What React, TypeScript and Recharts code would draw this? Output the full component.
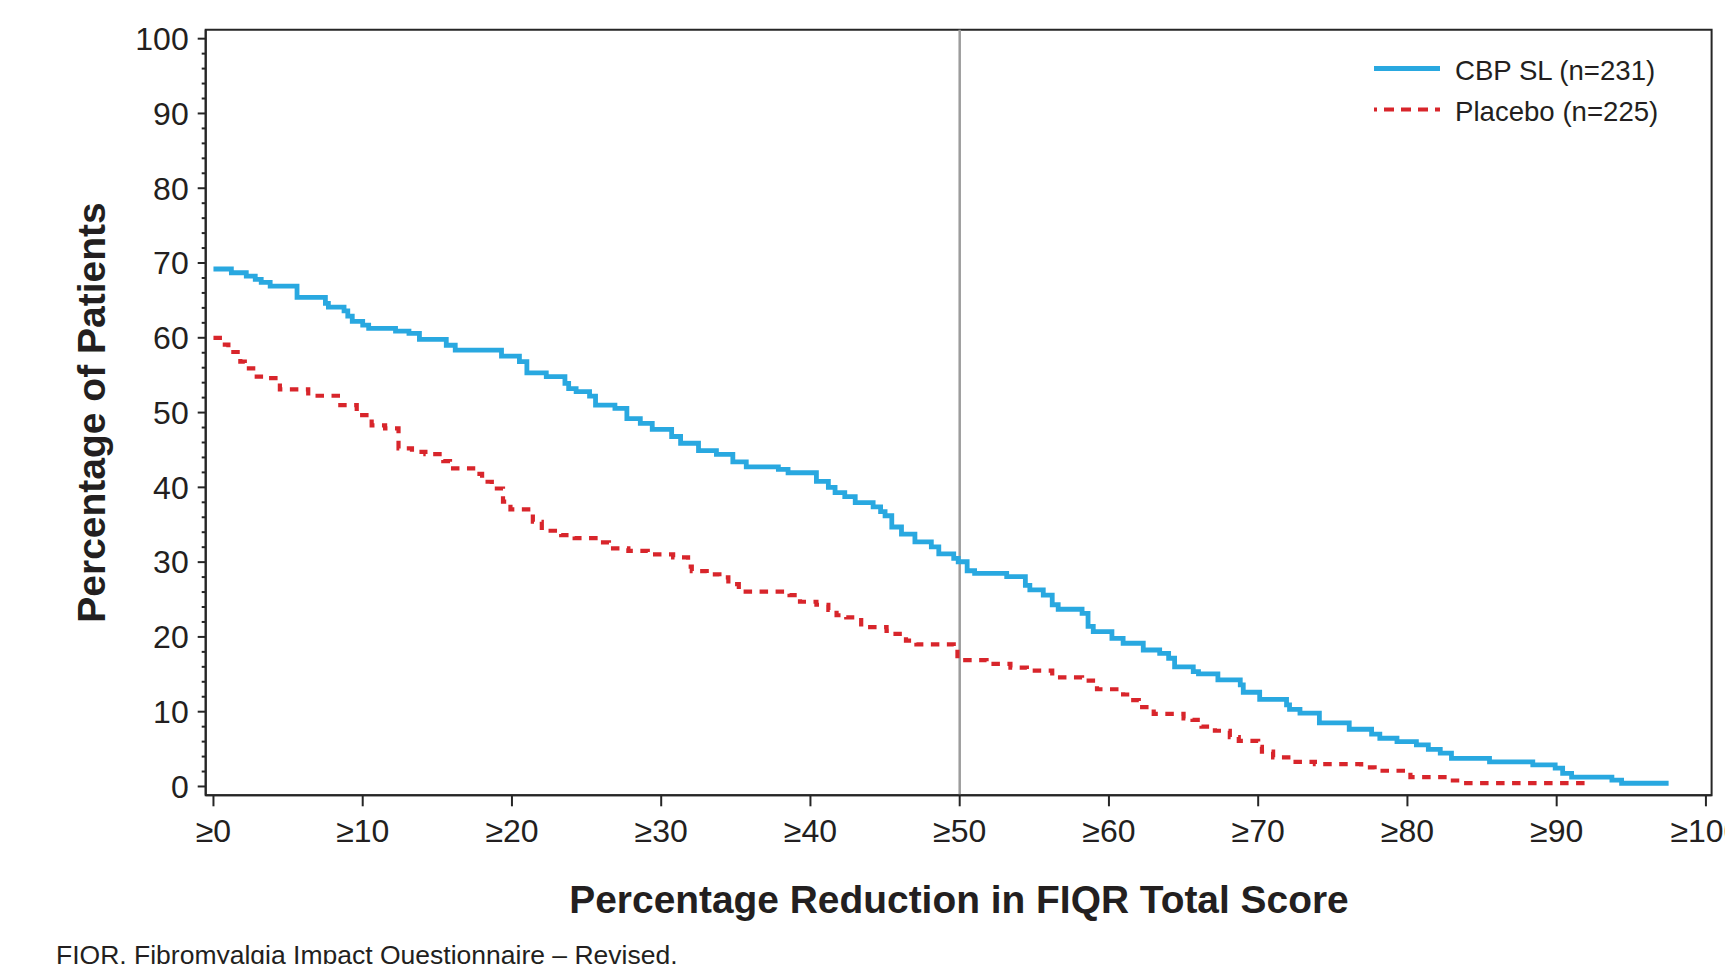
import React from 'react';
import { LineChart, Line, XAxis, YAxis, ReferenceLine, ReferenceArea } from 'recharts';

const FONT = '"Liberation Sans", Arial, Helvetica, sans-serif';
const BLUE = '#29a8e0';
const RED = '#d8252b';
const AXIS = '#262626';
const TEXT = '#231f20';

const seriesNames = ['CBP SL (n=231)', 'Placebo (n=225)'];
const xTitle = 'Percentage Reduction in FIQR Total Score';
const yTitle = 'Percentage of Patients';
const footnote = 'FIQR, Fibromyalgia Impact Questionnaire \u2013 Revised.';

const X_DOMAIN: [number, number] = [-0.52, 100.38];
const Y_DOMAIN: [number, number] = [-1.18, 101.2];

const xTicks = [0, 10, 20, 30, 40, 50, 60, 70, 80, 90, 100];
const yTicks = [
  0, 2, 4, 6, 8, 10, 12, 14, 16, 18, 20, 22, 24, 26, 28, 30, 32, 34, 36, 38, 40,
  42, 44, 46, 48, 50, 52, 54, 56, 58, 60, 62, 64, 66, 68, 70, 72, 74, 76, 78, 80,
  82, 84, 86, 88, 90, 92, 94, 96, 98, 100,
];
const yMajor = [0, 10, 20, 30, 40, 50, 60, 70, 80, 90, 100];

// [percentage reduction, percentage of patients]
const cbpSL: [number, number][] = [
  [0, 69.2], [1.2, 68.7], [2.2, 68.25], [2.8, 67.8], [3.2, 67.4], [3.8, 66.9],
  [5.6, 65.4], [7.5, 64.6], [7.7, 64.1], [8.75, 63.6], [9.0, 62.9], [9.3, 62.2],
  [10.0, 61.7], [10.4, 61.25], [12.2, 60.9], [13.1, 60.6], [13.8, 59.8], [15.6, 59.0],
  [16.2, 58.35], [19.3, 57.55], [20.5, 56.8], [21.0, 55.3], [22.3, 54.8], [23.55, 53.9],
  [23.8, 53.2], [24.3, 52.8], [25.2, 52.2], [25.6, 51.0], [26.9, 50.55], [27.7, 49.2],
  [28.6, 48.55], [29.4, 47.75], [30.7, 46.8], [31.3, 45.9], [32.5, 44.9], [33.7, 44.4],
  [34.8, 43.4], [35.7, 42.75], [37.85, 42.4], [38.5, 41.95], [40.4, 40.8], [41.2, 40.0],
  [41.65, 39.3], [42.3, 38.75], [43.0, 37.95], [44.2, 37.4], [44.7, 36.75], [45.0, 36.2],
  [45.45, 34.7], [46.1, 33.75], [47.0, 32.7], [48.1, 32.05], [48.6, 31.1], [49.6, 30.5],
  [49.9, 30.05], [50.5, 28.85], [51.0, 28.5], [53.15, 28.05], [54.4, 26.9], [54.7, 26.3],
  [55.6, 25.6], [56.2, 24.3], [56.6, 23.7], [58.2, 23.15], [58.6, 21.4], [58.95, 20.7],
  [60.2, 19.8], [60.95, 19.15], [62.3, 18.25], [63.4, 17.8], [64.0, 17.15], [64.4, 16.0],
  [65.65, 15.35], [66.0, 15.05], [67.3, 14.25], [68.8, 13.6], [69.0, 12.6], [70.1, 11.65],
  [71.9, 10.9], [72.1, 10.3], [72.8, 9.8], [74.1, 8.5], [76.1, 7.65], [77.6, 7.0],
  [78.15, 6.45], [79.3, 6.0], [80.6, 5.55], [81.4, 4.95], [82.2, 4.45], [82.95, 3.75],
  [85.5, 3.3], [88.4, 2.9], [89.9, 2.45], [90.4, 1.75], [91.0, 1.25], [93.7, 0.85],
  [94.35, 0.43], [97.5, 0.43],
];

const placebo: [number, number][] = [
  [0, 60.0], [0.6, 59.1], [1.0, 58.1], [1.8, 56.8], [2.1, 55.9], [2.9, 54.8],
  [3.5, 54.6], [4.45, 53.1], [6.35, 52.25], [8.5, 51.0], [9.6, 50.2], [9.8, 49.65],
  [10.6, 48.3], [11.5, 47.9], [12.4, 45.2], [13.3, 44.75], [14.2, 44.45], [15.4, 43.5],
  [15.85, 42.55], [17.4, 41.8], [18.0, 40.75], [18.65, 39.85], [19.4, 38.1], [19.9, 37.05],
  [21.4, 35.4], [22.0, 34.2], [23.3, 33.6], [24.2, 33.2], [25.6, 32.65], [26.5, 31.85],
  [27.8, 31.5], [29.1, 31.05], [30.8, 30.65], [31.8, 29.4], [32.05, 28.8], [33.05, 28.35],
  [33.9, 27.95], [34.5, 27.05], [35.2, 26.05], [38.6, 25.6], [39.3, 24.7], [40.4, 24.3],
  [41.2, 23.6], [41.75, 22.9], [42.4, 22.6], [43.4, 21.3], [45.1, 20.8], [45.7, 20.4],
  [46.4, 19.5], [47.1, 19.0], [49.6, 18.35], [49.85, 16.9], [51.8, 16.4], [53.4, 15.9],
  [54.5, 15.5], [56.2, 14.6], [58.2, 14.15], [59.2, 13.0], [60.95, 12.3], [61.4, 11.55],
  [62.0, 10.6], [63.0, 9.7], [65.0, 9.1], [65.6, 8.9], [66.2, 8.0], [67.1, 7.45],
  [68.1, 6.6], [68.7, 6.1], [70.0, 5.3], [70.25, 4.65], [71.0, 3.9], [72.2, 3.3],
  [73.8, 3.0], [76.9, 2.55], [77.8, 2.1], [80.2, 1.25], [82.7, 0.8], [83.5, 0.44],
  [92.0, 0.44],
];

const toRows = (pts: [number, number][]) => pts.map(([x, y]) => ({ x, y }));
const cbpData = toRows(cbpSL);
const placeboData = toRows(placebo);

const Y_TICK_SIZE = 8;
const Y_TICK_MARGIN = 8;

const YTick = (props: any) => {
  const { x, y, payload } = props;
  const axisX = x + Y_TICK_SIZE + Y_TICK_MARGIN;
  const major = yMajor.includes(payload.value);
  const len = major ? 8 : 4;
  return (
    <g>
      <line x1={axisX - len} x2={axisX} y1={y} y2={y} stroke={AXIS} strokeWidth={2} />
      {major && (
        <text
          x={x - 1}
          y={y}
          dy="0.355em"
          textAnchor="end"
          fontSize={32}
          fontFamily={FONT}
          fill={TEXT}
        >
          {payload.value}
        </text>
      )}
    </g>
  );
};

export default function App() {
  return (
    <div style={{ position: 'absolute', left: 0, top: 0, width: 1725, height: 964, overflow: 'hidden', background: '#fff' }}>
      <LineChart
        width={1725}
        height={964}
        margin={{ top: 29.7, right: 13.4, left: 0, bottom: 108.7 }}
      >
        <XAxis
          dataKey="x"
          type="number"
          domain={X_DOMAIN}
          allowDataOverflow
          ticks={xTicks}
          interval={0}
          height={60}
          tickSize={11}
          tickMargin={13}
          tickFormatter={(v: number) => `\u2265${v}`}
          axisLine={{ stroke: AXIS, strokeWidth: 2 }}
          tickLine={{ stroke: AXIS, strokeWidth: 2 }}
          tick={{ fontSize: 32, fontFamily: FONT, fill: TEXT }}
        />
        <YAxis
          type="number"
          domain={Y_DOMAIN}
          allowDataOverflow
          ticks={yTicks}
          interval={0}
          width={205.7}
          tickSize={Y_TICK_SIZE}
          tickMargin={Y_TICK_MARGIN}
          tickLine={false}
          tick={<YTick />}
          axisLine={{ stroke: AXIS, strokeWidth: 2 }}
        />
        <ReferenceArea
          x1={X_DOMAIN[0]}
          x2={X_DOMAIN[1]}
          y1={Y_DOMAIN[0]}
          y2={Y_DOMAIN[1]}
          fill="none"
          fillOpacity={0}
          stroke={AXIS}
          strokeWidth={2}
          ifOverflow="visible"
        />
        <ReferenceLine x={50} stroke="#9c9c9c" strokeWidth={2.5} />
        <Line
          data={placeboData}
          dataKey="y"
          name={seriesNames[1]}
          type="stepAfter"
          stroke={RED}
          strokeWidth={4.2}
          strokeDasharray="8.5 7.5"
          dot={false}
          activeDot={false}
          isAnimationActive={false}
        />
        <Line
          data={cbpData}
          dataKey="y"
          name={seriesNames[0]}
          type="stepAfter"
          stroke={BLUE}
          strokeWidth={4.8}
          dot={false}
          activeDot={false}
          isAnimationActive={false}
        />
      </LineChart>
      <svg
        width={1725}
        height={964}
        style={{ position: 'absolute', left: 0, top: 0, pointerEvents: 'none' }}
      >
        <text
          transform="translate(104.5,412.5) rotate(-90)"
          textAnchor="middle"
          fontSize={39}
          fontWeight="bold"
          fontFamily={FONT}
          fill={TEXT}
        >
          {yTitle}
        </text>
        <text x={959} y={913} textAnchor="middle" fontSize={38.9} fontWeight="bold" fontFamily={FONT} fill={TEXT}>
          {xTitle}
        </text>
        <text x={56} y={964} fontSize={26.5} fontFamily={FONT} fill={TEXT}>
          {footnote}
        </text>
        <line x1={1374} x2={1440} y1={68.5} y2={68.5} stroke={BLUE} strokeWidth={4.8} />
        <text x={1455} y={79.5} fontSize={27.6} fontFamily={FONT} fill={TEXT}>
          {seriesNames[0]}
        </text>
        <line
          x1={1374}
          x2={1440}
          y1={109.5}
          y2={109.5}
          stroke={RED}
          strokeWidth={4.2}
          strokeDasharray="10 7"
          strokeDashoffset={7}
        />
        <text x={1455} y={121} fontSize={27.6} fontFamily={FONT} fill={TEXT}>
          {seriesNames[1]}
        </text>
      </svg>
    </div>
  );
}
